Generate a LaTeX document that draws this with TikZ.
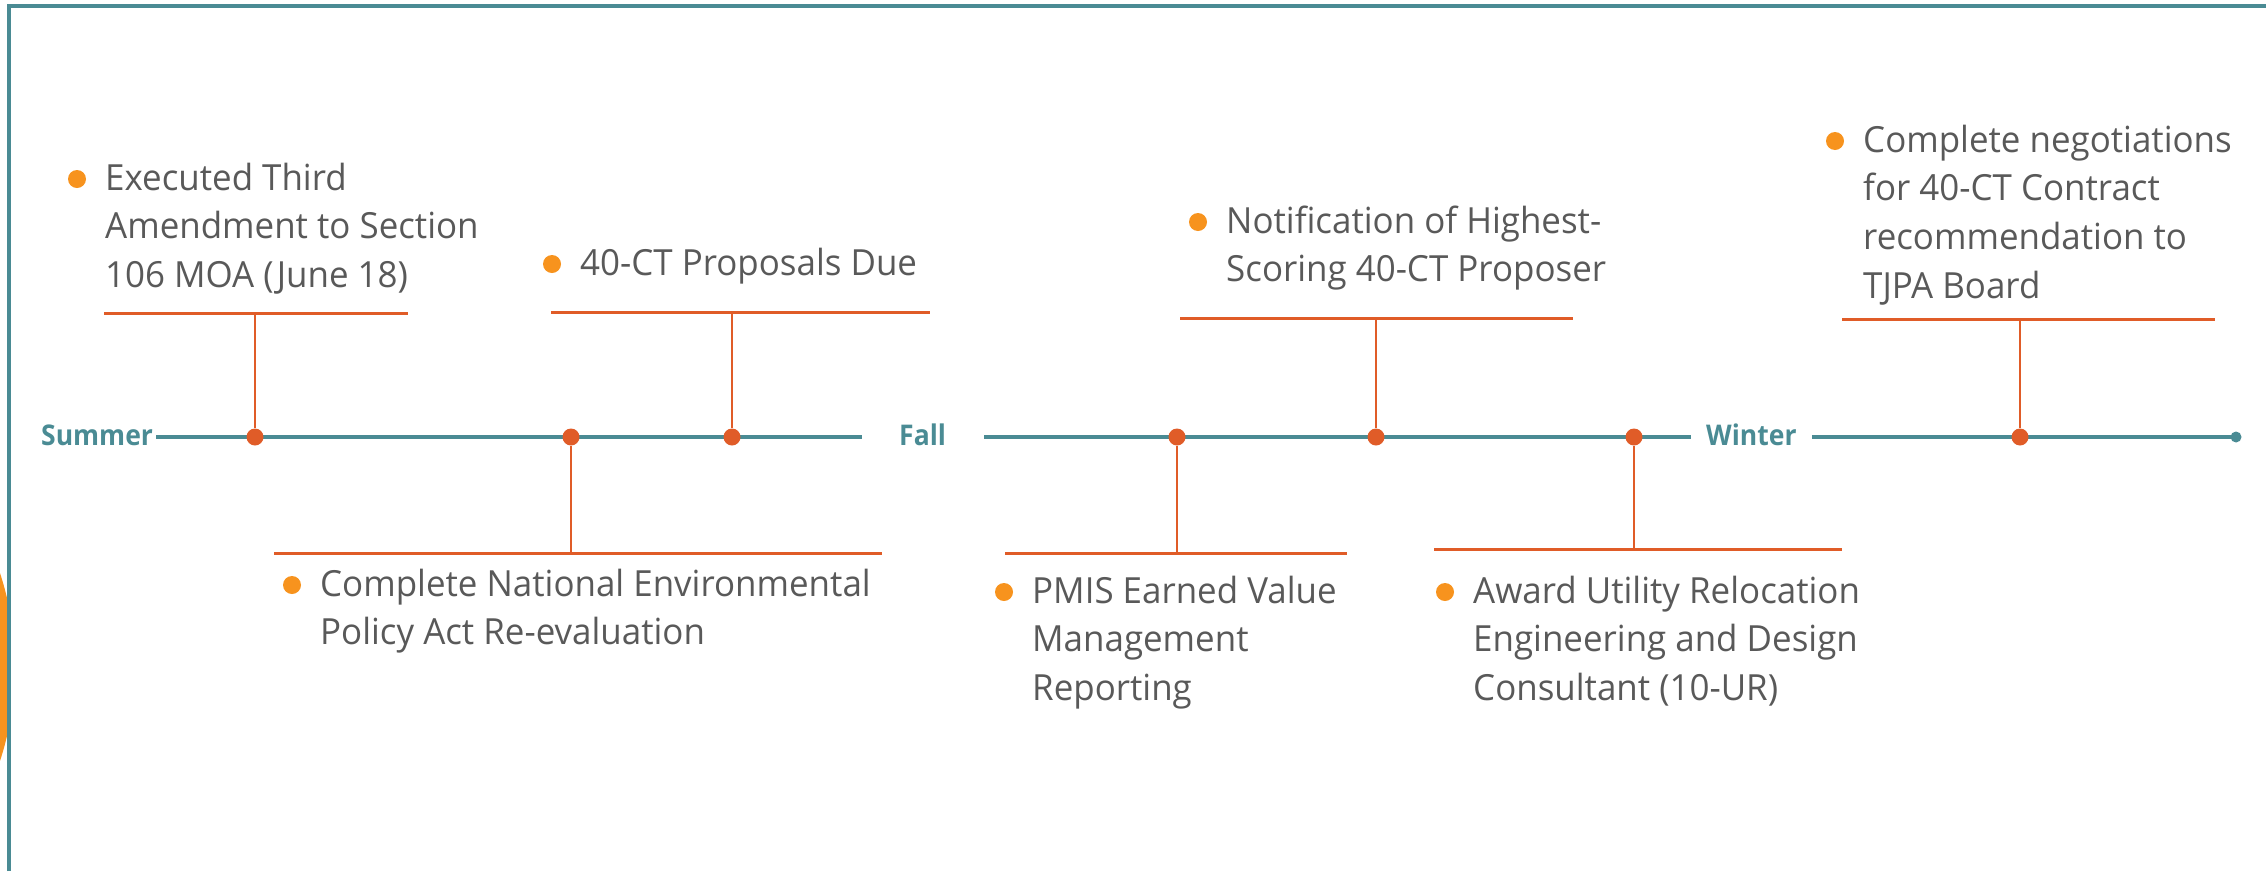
\documentclass[tikz,border=0pt]{standalone}
\usepackage{fontspec}
\usetikzlibrary{calc}
\setmainfont[FakeStretch=0.97]{Open Sans}
\newfontfamily\seasonfont[FakeStretch=0.93]{Open Sans}
\definecolor{tealc}{HTML}{4A8B94}
\definecolor{rustc}{HTML}{E05C28}
\definecolor{orangec}{HTML}{F7931E}
\definecolor{greyc}{HTML}{595959}

\begin{document}
\begin{tikzpicture}[
        x=1pt, y=-1pt, % pixel grid, y down
        frame/.style = {draw=tealc, line width=4pt},
        axis/.style = {draw=tealc, line width=4.5pt},
        season/.style = {font=\seasonfont\bfseries\fontsize{28.5}{30}\selectfont, text=tealc, inner sep=0pt, anchor=base west},
        tdot/.style = {circle, fill=rustc, inner sep=0pt, minimum size=17pt},
        bar/.style = {draw=rustc, line width=3pt},
        stem/.style = {draw=rustc, line width=2.5pt},
        item/.style = {font=\fontsize{36}{48.7}\selectfont, text=greyc, align=left, inner sep=0pt, anchor=base west}, % base = last line
        bul/.style = {fill=orangec},
    ]
    \useasboundingbox (0,0) rectangle (2266,871);

    % panel edge and the tab behind it
    \begin{scope}
        \clip (0,0) rectangle (9,871);
        \fill[orangec] (-285,667) circle (300pt);
    \end{scope}
    \draw[frame] (9,871) -- (9,6) -- (2270,6);

    % seasons on the time line
    \node[season] (summer) at (41,445) {Summer};
    \node[season] (fall) at (899,445) {Fall};
    \node[season] (winter) at (1706,445) {Winter};
    \coordinate (tend) at (2236,437);

    \draw[axis] ($(summer.east |- tend)+(3,0)$) -- ($(fall.west |- tend)+(-37,0)$);
    \draw[axis] ($(fall.east |- tend)+(38,0)$) -- ($(winter.west |- tend)+(-15,0)$);
    \draw[axis] ($(winter.east |- tend)+(15,0)$) -- (tend);
    \fill[tealc] (tend) circle (5.5pt);

    % milestones
    \node[tdot] (d1) at (255,437) {};
    \node[tdot] (d2) at (571,437) {};
    \node[tdot] (d3) at (732,437) {};
    \node[tdot] (d4) at (1177,437) {};
    \node[tdot] (d5) at (1376,437) {};
    \node[tdot] (d6) at (1634,437) {};
    \node[tdot] (d7) at (2020,437) {};

    \coordinate (b1) at (255,313);
    \coordinate (b2) at (571,553);
    \coordinate (b3) at (732,312);
    \coordinate (b4) at (1177,553);
    \coordinate (b5) at (1376,318);
    \coordinate (b6) at (1634,549);
    \coordinate (b7) at (2020,319);

    \draw[bar] (104,313) -- (408,313);
    \draw[bar] (274,553) -- (882,553);
    \draw[bar] (551,312) -- (930,312);
    \draw[bar] (1005,553) -- (1347,553);
    \draw[bar] (1180,318) -- (1573,318);
    \draw[bar] (1434,549) -- (1842,549);
    \draw[bar] (1842,319) -- (2215,319);

    \draw[stem] (b1) -- (d1);
    \draw[stem] (b2) -- (d2);
    \draw[stem] (b3) -- (d3);
    \draw[stem] (b4) -- (d4);
    \draw[stem] (b5) -- (d5);
    \draw[stem] (b6) -- (d6);
    \draw[stem] (b7) -- (d7);

    % texts, placed by their last baseline
    \node[item] (e1) at (105,287.4) {Executed Third\\Amendment to Section\\106 MOA (June 18)};
    \node[item] (e2) at (320,644.7) {Complete National Environmental\\Policy Act Re-evaluation};
    \node[item] (e3) at (580,275) {40-CT Proposals Due};
    \node[item] (e4) at (1032,700.4) {PMIS Earned Value\\Management\\Reporting};
    \node[item] (e5) at (1226,281.7) {Notification of Highest-\\Scoring 40-CT Proposer};
    \node[item] (e6) at (1473,700.4) {Award Utility Relocation\\Engineering and Design\\Consultant (10-UR)};
    \node[item] (e7) at (1863,298.1) {Complete negotiations\\for 40-CT Contract\\recommendation to\\TJPA Board};

    % bullets beside the first line
    \foreach \e/\n in {e1/2, e2/1, e3/0, e4/2, e5/1, e6/2, e7/3}
        \fill[bul] ([shift={(-28pt,{11pt+\n*48.7pt})}]\e.base west) circle (9pt);
\end{tikzpicture}
\end{document}
